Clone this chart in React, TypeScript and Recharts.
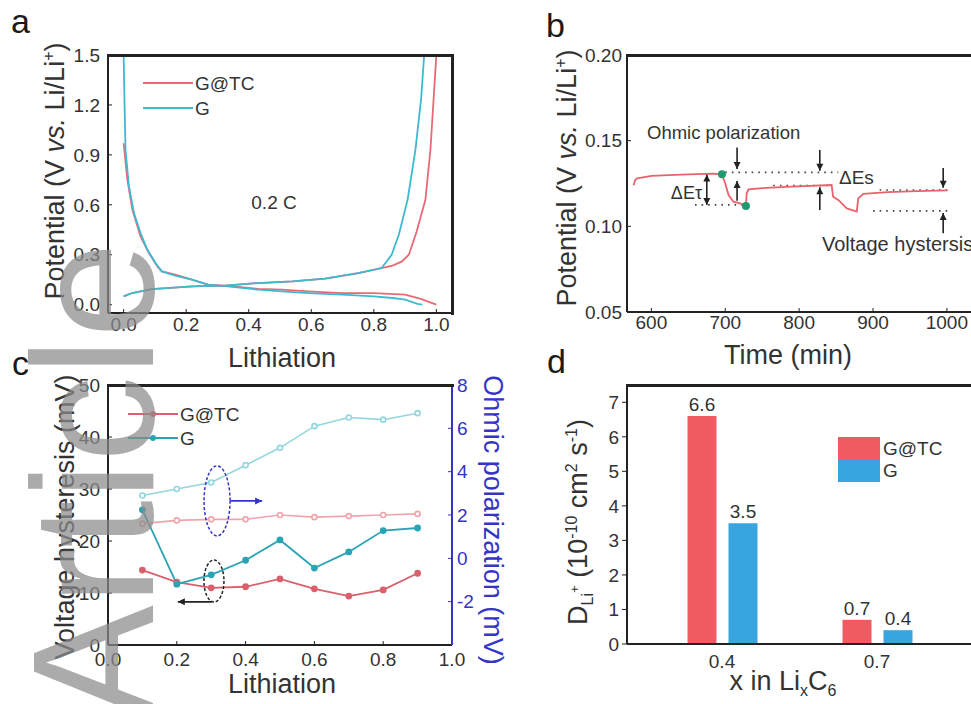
import {
  Bar,
  BarChart,
  ComposedChart,
  LabelList,
  Legend,
  Line,
  LineChart,
  ReferenceDot,
  ReferenceLine,
  Scatter,
  XAxis,
  YAxis,
} from 'recharts';

const FONT = '"Liberation Sans", Arial, sans-serif';
const INK = '#222';
const TXT = '#333';
const OHM = '#3434c8';
const TICK = { fontSize: 19, fill: TXT };

// a: charge / discharge profiles at 0.2 C
const aGtcLithX = [0, 0.012, 0.028, 0.054, 0.081, 0.108, 0.122, 0.165, 0.218, 0.27, 0.325, 0.43, 0.506, 0.59, 0.7, 0.8, 0.9, 0.95, 1.0];
const aGtcLithY = [0.97, 0.75, 0.57, 0.41, 0.31, 0.23, 0.2, 0.18, 0.15, 0.12, 0.114, 0.095, 0.09, 0.08, 0.07, 0.07, 0.06, 0.035, 0.0];
const aGLithX = [0, 0.003, 0.006, 0.017, 0.033, 0.054, 0.076, 0.102, 0.122, 0.165, 0.218, 0.27, 0.325, 0.43, 0.506, 0.59, 0.7, 0.8, 0.86, 0.9, 0.94, 0.955];
const aGLithY = [1.5, 1.2, 0.93, 0.71, 0.55, 0.43, 0.33, 0.25, 0.2, 0.175, 0.15, 0.12, 0.112, 0.09, 0.08, 0.07, 0.06, 0.05, 0.04, 0.03, 0.005, 0.0];
const aGtcDelithX = [0, 0.027, 0.09, 0.22, 0.325, 0.43, 0.54, 0.644, 0.75, 0.825, 0.86, 0.89, 0.912, 0.937, 0.965, 0.981, 0.991, 1.0];
const aGtcDelithY = [0.05, 0.07, 0.094, 0.11, 0.115, 0.13, 0.14, 0.156, 0.19, 0.22, 0.235, 0.26, 0.3, 0.44, 0.63, 0.93, 1.23, 1.5];
const aGDelithX = [0, 0.027, 0.09, 0.22, 0.325, 0.43, 0.54, 0.644, 0.75, 0.825, 0.857, 0.88, 0.908, 0.933, 0.951, 0.961];
const aGDelithY = [0.05, 0.07, 0.094, 0.11, 0.115, 0.13, 0.14, 0.156, 0.19, 0.22, 0.3, 0.42, 0.63, 0.93, 1.23, 1.5];
const aTicksX = [0, 0.2, 0.4, 0.6, 0.8, 1.0];
const aTicksY = [0, 0.3, 0.6, 0.9, 1.2, 1.5];

// b: GITT step
const bTime = [576, 578, 581, 600, 640, 684, 695.5, 700, 704.5, 711, 720, 728, 729, 731.5, 747, 790, 844, 846, 853, 864.5, 878, 880, 887, 920, 960, 1001];
const bPot = [0.124, 0.127, 0.128, 0.1295, 0.1302, 0.1308, 0.1304, 0.125, 0.1183, 0.1144, 0.1134, 0.1119, 0.1193, 0.1216, 0.1222, 0.1232, 0.1241, 0.1173, 0.1154, 0.1105, 0.1086, 0.1163, 0.119, 0.12, 0.1206, 0.121];
const bDotTime = [695.5, 728];
const bDotPot = [0.1304, 0.1119];
const bTicksX = [600, 700, 800, 900, 1000];
const bTicksY = [0.05, 0.1, 0.15, 0.2];

// c: voltage hysteresis and ohmic polarization
const cLith = [0.1, 0.2, 0.3, 0.4, 0.5, 0.6, 0.7, 0.8, 0.9];
const cHystGtc = [14.4, 12.1, 11.0, 11.2, 12.7, 10.8, 9.4, 10.6, 13.8];
const cHystG = [26.0, 11.7, 13.5, 16.3, 20.2, 14.8, 17.9, 22.0, 22.5];
const cOhmGtc = [1.6, 1.75, 1.8, 1.8, 2.0, 1.9, 1.95, 2.0, 2.05];
const cOhmG = [2.9, 3.2, 3.5, 4.3, 5.1, 6.1, 6.5, 6.4, 6.7];
const cTicksX = [0, 0.2, 0.4, 0.6, 0.8, 1.0];
const cTicksLeft = [0, 10, 20, 30, 40, 50];
const cTicksRight = [-2, 0, 2, 4, 6, 8];

// d: Li+ diffusion coefficient
const dX = ['0.4', '0.7'];
const dGtc = [6.6, 0.7];
const dG = [3.5, 0.4];
const dTicksY = [0, 1, 2, 3, 4, 5, 6, 7];

const RED_A = '#e86a76';
const BLUE_A = '#3cbad0';
const RED_C = '#d9606c';
const TEAL_C = '#2aa4b4';
const RED_D = '#f05b62';
const BLUE_D = '#37a6e0';

const zip = (xs: number[], ys: number[]) => xs.map((x, i) => ({ x, y: ys[i] }));
const ORDER = ['G@TC', 'G'];
const legendItems = (p: any[] = []) =>
  p
    .filter((e) => ORDER.includes(e.value))
    .sort((a, b) => ORDER.indexOf(a.value) - ORDER.indexOf(b.value));

function LineLegend({ payload, marker, rowH }: any) {
  return (
    <div>
      {legendItems(payload).map((e: any) => (
        <div key={e.value} style={{ display: 'flex', alignItems: 'center', height: rowH }}>
          <svg width={50} height={10}>
            <line x1={0} y1={5} x2={50} y2={5} stroke={e.color} strokeWidth={2} />
            {marker && <circle cx={25} cy={5} r={3} fill={e.color} />}
          </svg>
          <span style={{ fontSize: 19, color: TXT, marginLeft: 2, lineHeight: 1 }}>{e.value}</span>
        </div>
      ))}
    </div>
  );
}

function BoxLegend({ payload }: any) {
  return (
    <div>
      {legendItems(payload).map((e: any) => (
        <div key={e.value} style={{ display: 'flex', alignItems: 'center', height: 22.5 }}>
          <span style={{ width: 42, height: 22.5, background: e.color, display: 'inline-block' }} />
          <span style={{ fontSize: 19, color: TXT, marginLeft: 3, lineHeight: 1 }}>{e.value}</span>
        </div>
      ))}
    </div>
  );
}

function arrowShape(color: string, both = false, head = 3.5) {
  return (p: any) => {
    const { x1, y1, x2, y2 } = p;
    const ang = Math.atan2(y2 - y1, x2 - x1);
    const tip = (x: number, y: number, a: number) => {
      const l = head * 2;
      const pts = [
        [x, y],
        [x - l * Math.cos(a) + head * Math.sin(a), y - l * Math.sin(a) - head * Math.cos(a)],
        [x - l * Math.cos(a) - head * Math.sin(a), y - l * Math.sin(a) + head * Math.cos(a)],
      ];
      return <polygon points={pts.map((q) => q.join(',')).join(' ')} fill={color} />;
    };
    return (
      <g>
        <line x1={x1} y1={y1} x2={x2} y2={y2} stroke={color} strokeWidth={1.6} />
        {tip(x2, y2, ang)}
        {both && tip(x1, y1, ang + Math.PI)}
      </g>
    );
  };
}

const ellipseShape = (rx: number, ry: number, color: string) => (p: any) => (
  <ellipse cx={p.cx} cy={p.cy} rx={rx} ry={ry} fill="none" stroke={color} strokeWidth={1.5} strokeDasharray="3 2" />
);

function PanelA() {
  return (
    <LineChart width={460} height={340} margin={{ top: 55, right: 8, bottom: 0, left: 0 }}>
      <XAxis type="number" dataKey="x" domain={[-0.05, 1.05]} ticks={aTicksX} interval={0}
        tickFormatter={(v: number) => v.toFixed(1)} height={27} tickSize={-4} tickMargin={9}
        tick={TICK} stroke={INK} axisLine={{ strokeWidth: 2 }} allowDataOverflow />
      <YAxis type="number" domain={[-0.05, 1.5]} ticks={aTicksY} interval={0}
        tickFormatter={(v: number) => v.toFixed(1)} width={108} tickSize={-4} tickMargin={12}
        tick={TICK} stroke={INK} axisLine={{ strokeWidth: 2 }} allowDataOverflow />
      <Legend layout="vertical" align="center" verticalAlign="middle"
        wrapperStyle={{ top: 70.5, left: 143, width: 160, height: 50 }}
        content={(p: any) => <LineLegend {...p} rowH={25} />} />
      <Line data={zip(aGtcLithX, aGtcLithY)} dataKey="y" name="G@TC" stroke={RED_A} strokeWidth={1.8} dot={false} isAnimationActive={false} />
      <Line data={zip(aGLithX, aGLithY)} dataKey="y" name="G" stroke={BLUE_A} strokeWidth={1.8} dot={false} isAnimationActive={false} />
      <Line data={zip(aGtcDelithX, aGtcDelithY)} dataKey="y" name="G@TC charge" legendType="none" stroke={RED_A} strokeWidth={1.8} dot={false} isAnimationActive={false} />
      <Line data={zip(aGDelithX, aGDelithY)} dataKey="y" name="G charge" legendType="none" stroke={BLUE_A} strokeWidth={1.8} dot={false} isAnimationActive={false} />
    </LineChart>
  );
}

function PanelB() {
  const dotted = { stroke: '#444', strokeWidth: 1.6, strokeDasharray: '1.6 5', ifOverflow: 'visible' as const };
  return (
    <ComposedChart width={492} height={340} margin={{ top: 55, right: 0, bottom: 0, left: 0 }}>
      <XAxis type="number" dataKey="x" domain={[567, 1034]} ticks={bTicksX} interval={0}
        height={28} tickSize={-4} tickMargin={8} tick={TICK} stroke={INK} axisLine={{ strokeWidth: 2 }} allowDataOverflow />
      <YAxis type="number" domain={[0.05, 0.2]} ticks={bTicksY} interval={0}
        tickFormatter={(v: number) => v.toFixed(2)} width={147} tickSize={-4} tickMargin={9}
        tick={TICK} stroke={INK} axisLine={{ strokeWidth: 2 }} allowDataOverflow />
      <ReferenceLine segment={[{ x: 700, y: 0.1315 }, { x: 853, y: 0.1315 }]} {...dotted} />
      <ReferenceLine segment={[{ x: 659, y: 0.1125 }, { x: 724, y: 0.1125 }]} {...dotted} />
      <ReferenceLine segment={[{ x: 765, y: 0.1238 }, { x: 845, y: 0.1238 }]} {...dotted} />
      <ReferenceLine segment={[{ x: 900, y: 0.109 }, { x: 1004, y: 0.109 }]} {...dotted} />
      <ReferenceLine segment={[{ x: 909, y: 0.1212 }, { x: 1004, y: 0.1212 }]} {...dotted} />
      <Line data={zip(bTime, bPot)} dataKey="y" stroke="#e8626c" strokeWidth={1.8} dot={false} isAnimationActive={false} />
      <Scatter data={zip(bDotTime, bDotPot)} dataKey="y" fill="#1f9a6c" isAnimationActive={false}
        shape={(p: any) => <circle cx={p.cx} cy={p.cy} r={4} fill="#1f9a6c" />} />
      <ReferenceLine segment={[{ x: 675, y: 0.1125 }, { x: 675, y: 0.1302 }]} ifOverflow="visible" shape={arrowShape(INK, true)} />
      <ReferenceLine segment={[{ x: 716, y: 0.146 }, { x: 716, y: 0.1335 }]} ifOverflow="visible" shape={arrowShape(INK)} />
      <ReferenceLine segment={[{ x: 716, y: 0.115 }, { x: 716, y: 0.1265 }]} ifOverflow="visible" shape={arrowShape(INK)} />
      <ReferenceLine segment={[{ x: 828, y: 0.1446 }, { x: 828, y: 0.1325 }]} ifOverflow="visible" shape={arrowShape(INK)} />
      <ReferenceLine segment={[{ x: 828, y: 0.1095 }, { x: 828, y: 0.1228 }]} ifOverflow="visible" shape={arrowShape(INK)} />
      <ReferenceLine segment={[{ x: 995, y: 0.134 }, { x: 995, y: 0.1225 }]} ifOverflow="visible" shape={arrowShape(INK)} />
      <ReferenceLine segment={[{ x: 995, y: 0.096 }, { x: 995, y: 0.1078 }]} ifOverflow="visible" shape={arrowShape(INK)} />
    </ComposedChart>
  );
}

function PanelC() {
  const data = cLith.map((x, i) => ({ x, hGtc: cHystGtc[i], hG: cHystG[i], oGtc: cOhmGtc[i], oG: cOhmG[i] }));
  return (
    <ComposedChart width={500} height={364} data={data} margin={{ top: 45, right: 0, bottom: 0, left: 0 }}>
      <XAxis type="number" dataKey="x" domain={[0, 1]} ticks={cTicksX} interval={0}
        tickFormatter={(v: number) => v.toFixed(1)} height={59} tickSize={-4} tickMargin={12}
        tick={TICK} stroke={INK} axisLine={{ strokeWidth: 2 }} />
      <YAxis yAxisId="left" type="number" domain={[0, 50]} ticks={cTicksLeft} interval={0}
        width={108} tickSize={-4} tickMargin={12} tick={TICK} stroke={INK} axisLine={{ strokeWidth: 2 }} />
      <YAxis yAxisId="right" orientation="right" type="number" domain={[-4, 8]} ticks={cTicksRight} interval={0}
        width={48} tickSize={-4} tickMargin={9} tick={{ fontSize: 19, fill: OHM }} stroke={OHM} axisLine={{ strokeWidth: 2 }} />
      <Legend layout="vertical" align="center" verticalAlign="middle"
        wrapperStyle={{ top: 62, left: 128, width: 160, height: 48 }}
        content={(p: any) => <LineLegend {...p} marker rowH={24} />} />
      <Line yAxisId="left" dataKey="hGtc" name="G@TC" stroke={RED_C} strokeWidth={1.8}
        dot={{ r: 2.5, fill: RED_C, stroke: RED_C }} isAnimationActive={false} />
      <Line yAxisId="left" dataKey="hG" name="G" stroke={TEAL_C} strokeWidth={1.8}
        dot={{ r: 2.5, fill: TEAL_C, stroke: TEAL_C }} isAnimationActive={false} />
      <Line yAxisId="right" dataKey="oGtc" name="G@TC ohmic" legendType="none" stroke="#f0a4ab" strokeWidth={1.6}
        dot={{ r: 2.5, fill: '#fff', stroke: '#f0a4ab' }} isAnimationActive={false} />
      <Line yAxisId="right" dataKey="oG" name="G ohmic" legendType="none" stroke="#93d6e0" strokeWidth={1.6}
        dot={{ r: 2.5, fill: '#fff', stroke: '#93d6e0' }} isAnimationActive={false} />
      <ReferenceDot yAxisId="right" x={0.317} y={2.65} ifOverflow="visible" shape={ellipseShape(13, 35, OHM)} />
      <ReferenceLine yAxisId="right" segment={[{ x: 0.355, y: 2.65 }, { x: 0.448, y: 2.65 }]} ifOverflow="visible" shape={arrowShape(OHM)} />
      <ReferenceDot yAxisId="left" x={0.308} y={12.3} ifOverflow="visible" shape={ellipseShape(10, 21, INK)} />
      <ReferenceLine yAxisId="left" segment={[{ x: 0.302, y: 8.3 }, { x: 0.203, y: 8.3 }]} ifOverflow="visible" shape={arrowShape(INK)} />
    </ComposedChart>
  );
}

function PanelD() {
  const data = dX.map((x, i) => ({ x, gtc: dGtc[i], g: dG[i] }));
  return (
    <BarChart width={492} height={364} data={data} barSize={29} barGap={12}
      margin={{ top: 45, right: 0, bottom: 0, left: 0 }}>
      <XAxis dataKey="x" padding={{ left: 17.5, right: 17.5 }} height={60} tickLine={false}
        tickSize={0} tickMargin={11} tick={TICK} stroke={INK} axisLine={{ strokeWidth: 2 }} />
      <YAxis type="number" domain={[0, 7.5]} ticks={dTicksY} interval={0} width={147}
        tickSize={5} tickMargin={3} tick={TICK} stroke={INK} axisLine={{ strokeWidth: 2 }} />
      <Legend layout="vertical" align="center" verticalAlign="middle"
        wrapperStyle={{ top: 97, left: 358, width: 120, height: 45 }}
        content={(p: any) => <BoxLegend {...p} />} />
      <Bar dataKey="gtc" name="G@TC" fill={RED_D} isAnimationActive={false}>
        <LabelList dataKey="gtc" position="top" offset={5} fontSize={19} fill={TXT}
          formatter={(v: any) => Number(v).toFixed(1)} />
      </Bar>
      <Bar dataKey="g" name="G" fill={BLUE_D} isAnimationActive={false}>
        <LabelList dataKey="g" position="top" offset={5} fontSize={19} fill={TXT}
          formatter={(v: any) => Number(v).toFixed(1)} />
      </Bar>
    </BarChart>
  );
}

// closing top / right edges of each plot box
const EDGES = [
  { left: 107, top: 53.5, width: 347, height: 3 },
  { left: 450.5, top: 53.5, width: 3, height: 261 },
  { left: 626, top: 53.5, width: 346, height: 3 },
  { left: 107, top: 383.5, width: 347, height: 3 },
  { left: 626, top: 383.5, width: 346, height: 3 },
];

function Overlay() {
  const title = { fontSize: 27, fill: TXT, textAnchor: 'middle' as const };
  const sup = 16;
  return (
    <svg width={971} height={704} style={{ position: 'absolute', left: 0, top: 0, pointerEvents: 'none' }}>
      <g fontSize={34} fill="#1a1a1a">
        <text x={11} y={33}>a</text>
        <text x={546} y={37}>b</text>
        <text x={12} y={375}>c</text>
        <text x={547} y={373}>d</text>
      </g>
      <text {...title} transform="translate(64,171) rotate(-90)">
        Potential (V <tspan fontStyle="italic">vs.</tspan> Li/Li<tspan fontSize={sup} dy={-10}>+</tspan><tspan dy={10}>)</tspan>
      </text>
      <text {...title} transform="translate(576,178) rotate(-90)">
        Potential (V <tspan fontStyle="italic">vs.</tspan> Li/Li<tspan fontSize={sup} dy={-10}>+</tspan><tspan dy={10}>)</tspan>
      </text>
      <text {...title} x={282} y={367}>Lithiation</text>
      <text {...title} x={788} y={364}>Time (min)</text>
      <text {...title} transform="translate(74,517) rotate(-90)">Voltage hysteresis (mV)</text>
      <text {...title} fill={OHM} transform="translate(484,520) rotate(90)">Ohmic polarization (mV)</text>
      <text {...title} x={282} y={693}>Lithiation</text>
      <text {...title} transform="translate(587,522) rotate(-90)">
        D<tspan fontSize={sup} dy={6}>Li</tspan><tspan fontSize={sup - 3} dy={-14}>+</tspan>
        <tspan dy={8}> (10</tspan><tspan fontSize={sup} dy={-10}>-10</tspan>
        <tspan dy={10}> cm</tspan><tspan fontSize={sup} dy={-10}>2</tspan>
        <tspan dy={10}> s</tspan><tspan fontSize={sup} dy={-10}>-1</tspan><tspan dy={10}>)</tspan>
      </text>
      <text {...title} x={783} y={690}>
        x in Li<tspan fontSize={sup} dy={6}>x</tspan><tspan dy={-6}>C</tspan><tspan fontSize={sup} dy={6}>6</tspan>
      </text>
      <g fontSize={19} fill={TXT}>
        <text x={274} y={209} textAnchor="middle">0.2 C</text>
        <text x={647} y={139} fontSize={18.5}>Ohmic polarization</text>
        <text x={702} y={199} fontSize={18} textAnchor="end">ΔEτ</text>
        <text x={839} y={184} fontSize={19}>ΔEs</text>
        <text x={822} y={251} fontSize={20}>Voltage hystersis</text>
      </g>
      <text transform="translate(153,720) rotate(-90)" fontSize={172} fill="#8c8c8c" opacity={0.72}>Article</text>
    </svg>
  );
}

export default function App() {
  return (
    <div style={{ position: 'fixed', left: 0, top: 0, width: 971, height: 704, overflow: 'hidden', background: '#fff', fontFamily: FONT }}>
      <div style={{ position: 'absolute', left: 0, top: 0 }}><PanelA /></div>
      <div style={{ position: 'absolute', left: 480, top: 0 }}><PanelB /></div>
      <div style={{ position: 'absolute', left: 0, top: 340 }}><PanelC /></div>
      <div style={{ position: 'absolute', left: 480, top: 340 }}><PanelD /></div>
      {EDGES.map((e, i) => (
        <div key={i} style={{ position: 'absolute', background: INK, ...e }} />
      ))}
      <Overlay />
    </div>
  );
}
